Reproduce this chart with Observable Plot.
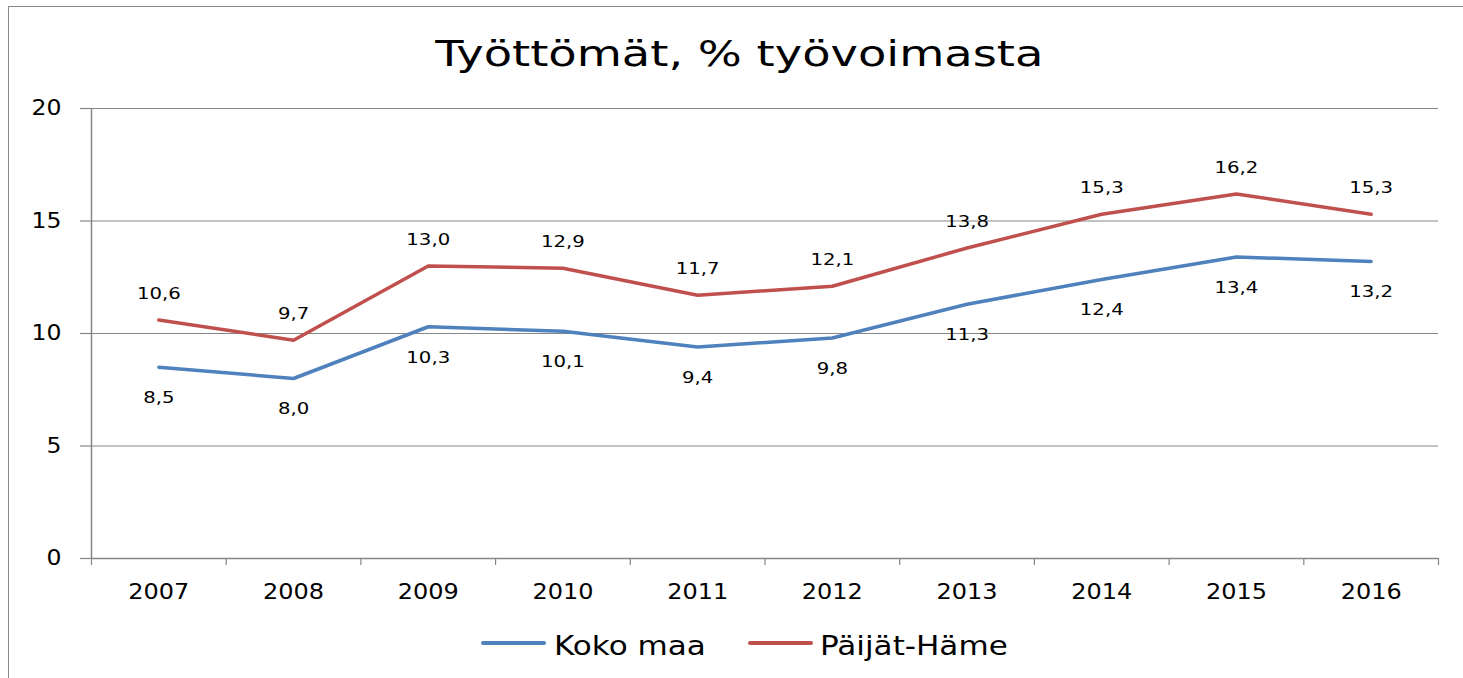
<!DOCTYPE html>
<html>
<head>
<meta charset="utf-8">
<script src="https://cdn.jsdelivr.net/npm/d3@7"></script>
<script src="https://cdn.jsdelivr.net/npm/@observablehq/plot@0.6"></script>
<style>
  html, body { margin: 0; padding: 0; background: #fff; }
  #wrap { position: relative; width: 1463px; height: 678px; overflow: hidden; font-family: "DejaVu Sans", sans-serif; color: #000; }
  #border { position: absolute; left: 8px; top: 6px; width: 1500px; height: 700px; border: 1.5px solid #8a8a8a; box-sizing: border-box; }
  #title { position: absolute; left: 0; top: 36px; width: 1463px; padding-left: 16px; box-sizing: border-box; text-align: center; font-size: 36px; line-height: 36px; white-space: nowrap; }
  #title span { display: inline-block; transform: scaleX(1.287); transform-origin: center; }
  #chart { position: absolute; left: 0; top: 0; }
  .leg-line { position: absolute; height: 4px; border-radius: 2px; }
  .leg-text { position: absolute; font-size: 27px; line-height: 27px; white-space: nowrap; transform: scaleX(1.15); transform-origin: left center; }
</style>
</head>
<body>
<div id="wrap">
  <div id="border"></div>
  <div id="title"><span></span></div>
  <div id="chart"></div>
  <div id="legend"></div>
</div>
<script>
const titleText = "Työttömät, % työvoimasta";
const years = [2007, 2008, 2009, 2010, 2011, 2012, 2013, 2014, 2015, 2016];
const kokoMaa = [8.5, 8.0, 10.3, 10.1, 9.4, 9.8, 11.3, 12.4, 13.4, 13.2];
const paijatHame = [10.6, 9.7, 13.0, 12.9, 11.7, 12.1, 13.8, 15.3, 16.2, 15.3];
const seriesNames = ["Koko maa", "Päijät-Häme"];
const seriesColors = ["#4F81BD", "#C0504D"];
const yTicks = [0, 5, 10, 15, 20];

document.querySelector("#title span").textContent = titleText;

const W = 1463, H = 620, mL = 91, mR = 25, mT = 108, mB = 62;
const halfStep = (W - mL - mR) / years.length / 2;
const grid = "#868686";

const rows = [
  ...years.map((year, i) => ({year, value: kokoMaa[i], series: seriesNames[0]})),
  ...years.map((year, i) => ({year, value: paijatHame[i], series: seriesNames[1]}))
];
const fmt = d => d.value.toFixed(1).replace(".", ",");

const chart = Plot.plot({
  width: W, height: H,
  marginLeft: mL, marginRight: mR, marginTop: mT, marginBottom: mB,
  style: {fontFamily: "DejaVu Sans, sans-serif", background: "transparent", color: "#000"},
  x: {type: "point", domain: years, padding: 0.5, round: false, label: null},
  y: {domain: [0, 20], label: null},
  color: {domain: seriesNames, range: seriesColors},
  marks: [
    Plot.gridY(yTicks.filter(t => t > 0), {stroke: grid, strokeOpacity: 1, strokeWidth: 1.2}),
    Plot.axisY({ticks: yTicks, tickSize: 11, text: null, label: null, stroke: grid, strokeWidth: 1.2}),
    Plot.axisY({ticks: yTicks, tickSize: 0, tickPadding: 30, fontSize: 21, fill: "#000", label: null}),
    Plot.ruleY([0], {stroke: grid, strokeWidth: 1.5}),
    Plot.ruleX([years[0]], {stroke: grid, strokeWidth: 1.5, dx: -halfStep}),
    Plot.axisX({ticks: years, tickSize: 7, text: null, label: null, stroke: grid, strokeWidth: 1.2, dx: -halfStep}),
    Plot.axisX({ticks: [years[years.length - 1]], tickSize: 7, text: null, label: null, stroke: grid, strokeWidth: 1.2, dx: halfStep}),
    Plot.axisX({ticks: years, tickSize: 0, tickPadding: 25, fontSize: 22, fill: "#000", tickFormat: d => `${d}`, label: null}),
    Plot.line(rows, {x: "year", y: "value", z: "series", stroke: "series", strokeWidth: 3.5, strokeLinecap: "round", strokeLinejoin: "round"}),
    Plot.text(rows.filter(d => d.series === seriesNames[0]), {x: "year", y: "value", text: fmt, dy: 31, fontSize: 15.5, fill: "#000"}),
    Plot.text(rows.filter(d => d.series === seriesNames[1]), {x: "year", y: "value", text: fmt, dy: -26, fontSize: 15.5, fill: "#000"})
  ]
});
document.getElementById("chart").appendChild(chart);

// horizontally stretch glyphs to mimic the wide text of the reference
const svg = d3.select(chart);
function stretch(selector, k) {
  svg.selectAll(selector).selectAll("text").each(function () {
    const len = this.getComputedTextLength();
    this.setAttribute("textLength", (len * k).toFixed(2));
    this.setAttribute("lengthAdjust", "spacingAndGlyphs");
  });
}
stretch('g[aria-label="y-axis tick label"]', 1.12);
stretch('g[aria-label="x-axis tick label"]', 1.09);
stretch('g[aria-label="text"]', 1.27);

// legend
const legend = document.getElementById("legend");
const legendPos = [{line: 481, text: 554}, {line: 748, text: 820}];
seriesNames.forEach((name, i) => {
  const l = document.createElement("div");
  l.className = "leg-line";
  l.style.left = legendPos[i].line + "px";
  l.style.width = "65px";
  l.style.top = "641px";
  l.style.background = seriesColors[i];
  legend.appendChild(l);
  const t = document.createElement("div");
  t.className = "leg-text";
  t.style.left = legendPos[i].text + "px";
  t.style.top = "632px";
  t.textContent = name;
  legend.appendChild(t);
});
</script>
</body>
</html>
